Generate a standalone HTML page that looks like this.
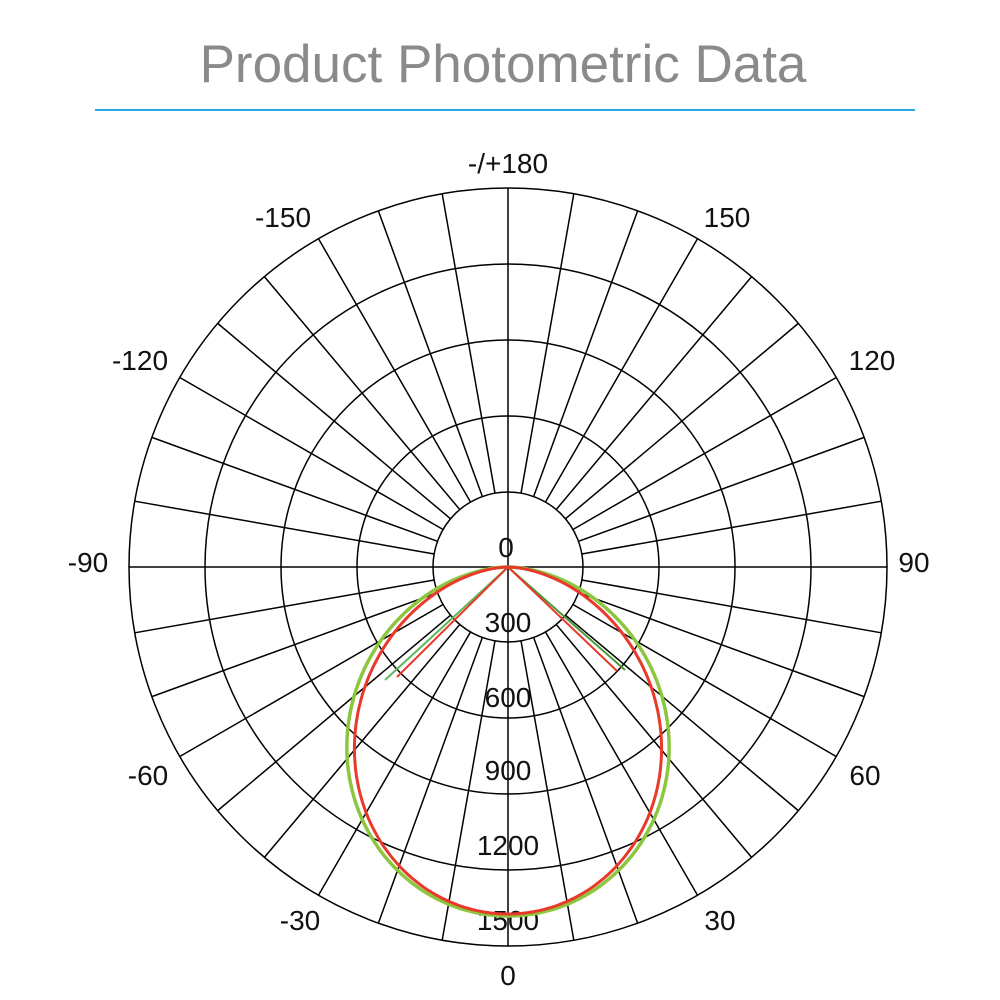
<!DOCTYPE html>
<html><head><meta charset="utf-8"><style>
body{margin:0;background:#fff}
svg{display:block}
text{font-family:"Liberation Sans",Arial,sans-serif}
</style></head><body>
<svg id="s" width="1000" height="1000" viewBox="0 0 1000 1000" xmlns="http://www.w3.org/2000/svg">
<text x="503" y="82" font-size="53" fill="#8a8a8a" text-anchor="middle">Product Photometric Data</text>
<line x1="95" y1="110" x2="915" y2="110" stroke="#29a8e0" stroke-width="2"/>
<g id="grid" stroke="#000" stroke-width="1.5" fill="none"></g>
<g font-size="28" fill="#111" text-anchor="middle">
<text x="508" y="173">-/+180</text>
<text x="727" y="227">150</text>
<text x="283" y="227">-150</text>
<text x="872" y="370">120</text>
<text x="140" y="370">-120</text>
<text x="914" y="572">90</text>
<text x="88" y="572">-90</text>
<text x="865" y="785">60</text>
<text x="148" y="785">-60</text>
<text x="720" y="930">30</text>
<text x="300" y="930">-30</text>
<text x="508" y="985">0</text>
<text x="506" y="557">0</text>
<text x="508" y="632">300</text>
<text x="508" y="707">600</text>
<text x="508" y="780">900</text>
<text x="508" y="855">1200</text>
<text x="508" y="930">1500</text>
</g>
<g id="curves" fill="none"></g>
</svg>
<script>
var cx=508,cy=567,R=379,ns="http://www.w3.org/2000/svg";
var g=document.getElementById('grid');
function el(p,t,a){var e=document.createElementNS(ns,t);for(var k in a)e.setAttribute(k,a[k]);p.appendChild(e);return e;}
[75,151,227,303,379].forEach(function(r){el(g,'circle',{cx:cx,cy:cy,r:r});});
for(var a=0;a<360;a+=10){var t=a*Math.PI/180,r0=(a%90==0)?0:75;
el(g,'line',{x1:cx+r0*Math.sin(t),y1:cy+r0*Math.cos(t),x2:cx+R*Math.sin(t),y2:cy+R*Math.cos(t)});}
var c=document.getElementById('curves');
function curve(D,n,col,w){var d='';for(var a=-90;a<=90;a+=1){var t=a*Math.PI/180,r=D*Math.pow(Math.max(Math.cos(t),0),n);
d+=(a==-90?'M':'L')+(cx+r*Math.sin(t)).toFixed(1)+','+(cy+r*Math.cos(t)).toFixed(1);}
el(c,'path',{d:d,stroke:col,'stroke-width':w});}
curve(349,1.25,'#8cc63f',3.5);
curve(347,1.4,'#e8392b',3);
el(c,'line',{x1:cx,y1:cy,x2:385,y2:680,stroke:'#5cb85c','stroke-width':2});
el(c,'line',{x1:cx,y1:cy,x2:397,y2:677,stroke:'#e8392b','stroke-width':2});
el(c,'line',{x1:cx,y1:cy,x2:625,y2:670,stroke:'#4a9a3a','stroke-width':2});
el(c,'line',{x1:cx,y1:cy,x2:617,y2:671,stroke:'#e8392b','stroke-width':2});
</script>
</body></html>
